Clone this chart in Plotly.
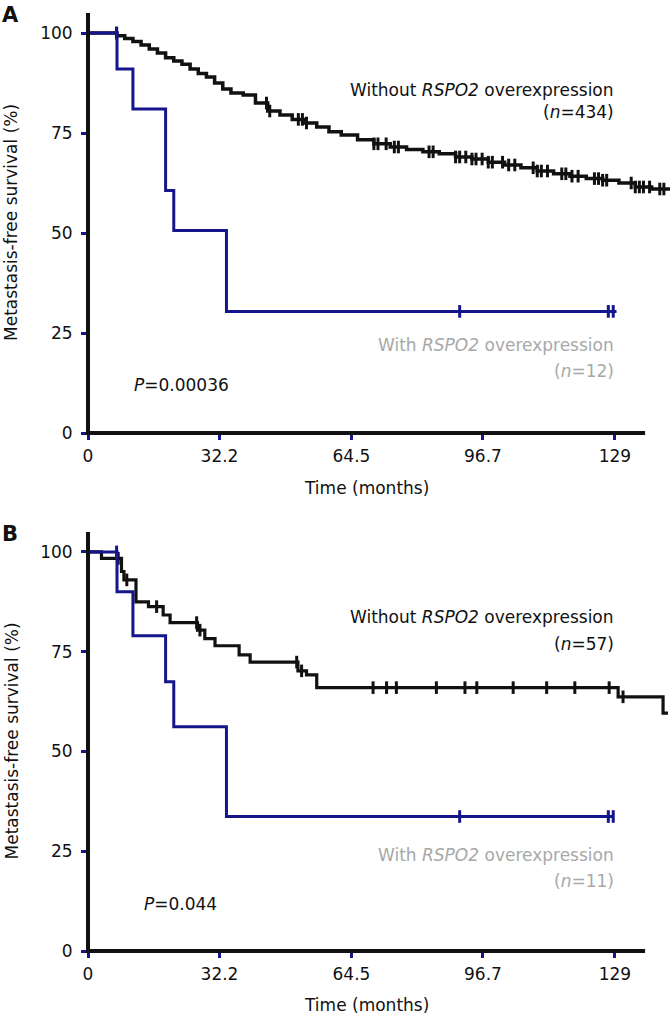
import numpy as np
import plotly.graph_objects as go

# ---------------- data ----------------
x_tick_vals = [0, 32.2, 64.5, 96.7, 129]
x_tick_text = ["0", "32.2", "64.5", "96.7", "129"]
y_tick_vals = [0, 25, 50, 75, 100]
y_tick_text = ["0", "25", "50", "75", "100"]

# Panel A - without RSPO2 overexpression (n=434)
a_wo_t = [0, 7.1, 9, 11, 13, 15, 17, 19, 21, 23, 25, 27, 29, 31, 33, 35, 38, 41, 44, 47, 50, 53,
          56, 59, 62, 66, 70, 74, 78, 82, 86, 90, 94, 98, 102, 106, 110, 114, 118, 122, 126, 130,
          134, 138, 142.5]
a_wo_s = [100, 99.3, 98.6, 97.9, 97.0, 96.0, 95.0, 93.8, 93.0, 92.2, 91.0, 89.9, 89.0, 87.5, 86.0,
          85.0, 84.5, 82.5, 80.5, 79.5, 78.4, 77.5, 76.5, 75.3, 74.5, 73.3, 72.3, 71.5, 70.9, 70.3,
          69.8, 69.0, 68.5, 67.7, 67.0, 66.3, 65.5, 64.8, 64.2, 63.6, 63.2, 62.5, 61.5, 61.0, 61.0]
a_wo_cens = [7.0, 43.7, 44.5, 51.5, 52.5, 53.5, 70, 71, 73, 75, 76, 83.5, 84.5, 90, 91, 92.5, 94,
             95, 96.5, 98, 99, 101.5, 103, 104.5, 109, 110, 111, 112.5, 116, 117, 118.5, 120, 124,
             125, 126, 127, 133, 134, 135, 136, 137.5, 140, 141]

# Panel A - with RSPO2 overexpression (n=12)
a_w_t = [0, 7.1, 11, 19, 21, 33.9, 129.4]
a_w_s = [100, 91.0, 81.0, 60.6, 50.6, 30.4, 30.4]
a_w_cens = [7.0, 91, 127.4, 128.6]

# Panel B - without RSPO2 overexpression (n=57)
b_wo_t = [0, 3.3, 8.2, 8.8, 11.75, 14.8, 18.4, 20.1, 26.8, 28.6, 31.1, 37.0, 39.7, 51.4, 53.5,
          56.0, 129.8, 140.8, 142.0]
b_wo_s = [100, 98.4, 95.1, 93.0, 87.5, 86.3, 84.2, 82.3, 80.4, 78.3, 76.5, 74.2, 72.4, 70.2,
          69.2, 66.0, 63.7, 59.6, 59.6]
b_wo_cens = [7.4, 9.5, 16.8, 26.6, 27.4, 51.1, 52.3, 69.8, 73.1, 75.5, 85.3, 92.3, 95.2, 104.1,
             112.3, 119.2, 127.6, 131.0]

# Panel B - with RSPO2 overexpression (n=11)
b_w_t = [0, 7.1, 11, 19, 21, 33.9, 128.6]
b_w_s = [100, 90.0, 79.0, 67.5, 56.2, 33.7, 33.7]
b_w_cens = [7.0, 91, 127.4, 128.6]

# ---------------- layout geometry ----------------
W, H = 670, 1017
PLOT_L, PLOT_R, PLOT_T, PLOT_B = 88, 670, 13, 951  # window pixels
ML, MR, MT, MB = PLOT_L, W - PLOT_R, PLOT_T, H - PLOT_B
PW, PH = PLOT_R - PLOT_L, PLOT_B - PLOT_T
XMAX = 142.5
AXIS_END = 136.4
YMAX = 105

domA = [(PLOT_B - 433) / PH, 1.0]
domB = [0.0, (PLOT_B - 532) / PH]

BLACK = "#111111"
BLUE = "#15158c"
GRAY = "#a8a8a8"
FONT = "DejaVu Sans"
FS = 17


def step_lookup(ts, ss, t):
    i = np.searchsorted(np.asarray(ts), t, side="right") - 1
    return np.asarray(ss)[np.clip(i, 0, len(ss) - 1)]


def pxx(px):
    return (px - PLOT_L) / PW


def pxy(py):
    return (PLOT_B - py) / PH


fig = go.Figure()


def add_curve(ts, ss, cens, color, xa, ya, name, lw):
    fig.add_trace(go.Scatter(x=ts, y=ss, mode="lines", line=dict(color=color, width=lw, shape="hv"),
                             xaxis=xa, yaxis=ya, name=name, showlegend=False, hoverinfo="skip"))
    cy = [float(step_lookup(ts, ss, c)) for c in cens]
    fig.add_trace(go.Scatter(x=cens, y=cy, mode="markers",
                             marker=dict(symbol="line-ns", size=9,
                                         line=dict(color=color, width=3)),
                             xaxis=xa, yaxis=ya, showlegend=False, hoverinfo="skip"))


add_curve(a_wo_t, a_wo_s, a_wo_cens, BLACK, "x", "y", "Without A", 3.5)
add_curve(a_w_t, a_w_s, a_w_cens, BLUE, "x", "y", "With A", 3)
add_curve(b_wo_t, b_wo_s, b_wo_cens, BLACK, "x2", "y2", "Without B", 3.2)
add_curve(b_w_t, b_w_s, b_w_cens, BLUE, "x2", "y2", "With B", 3)

xcommon = dict(range=[0, XMAX], showline=False, showgrid=False, zeroline=False,
               ticks="outside", ticklen=6, tickwidth=3, tickcolor=BLUE,
               tickvals=x_tick_vals, ticktext=x_tick_text, ticklabelstandoff=2,
               tickfont=dict(family=FONT, size=FS, color=BLACK), domain=[0, 1])
ycommon = dict(range=[0, YMAX], showline=False, showgrid=False, zeroline=False,
               ticks="outside", ticklen=6, tickwidth=3, tickcolor=BLUE,
               tickvals=y_tick_vals, ticktext=y_tick_text, ticklabelstandoff=5,
               tickfont=dict(family=FONT, size=FS, color=BLACK))

shapes = []
for dom in (domA, domB):
    y0 = dom[0]
    ytop = dom[1]
    shapes.append(dict(type="line", xref="paper", yref="paper", x0=0, x1=0,
                       y0=y0 - 2 / PH, y1=ytop, line=dict(color=BLACK, width=4)))
    shapes.append(dict(type="line", xref="paper", yref="paper", x0=-2 / PW, x1=AXIS_END / XMAX,
                       y0=y0, y1=y0, line=dict(color=BLACK, width=4)))

ann = []


def add_text(text, px, py, xanchor="center", color=BLACK, size=FS, angle=0):
    ann.append(dict(text=text, xref="paper", yref="paper", x=pxx(px), y=pxy(py),
                    xanchor=xanchor, yanchor="middle", showarrow=False, textangle=angle,
                    font=dict(family=FONT, size=size, color=color)))


# panel A texts
add_text("<b>A</b>", 10, 15.5, size=21)
add_text("Without <i>RSPO2</i> overexpression", 616, 90.5, xanchor="right")
add_text("(<i>n</i>=434)", 616, 112.5, xanchor="right")
add_text("With <i>RSPO2</i> overexpression", 616, 345, xanchor="right", color=GRAY)
add_text("(<i>n</i>=12)", 616, 370.5, xanchor="right", color=GRAY)
add_text("<i>P</i>=0.00036", 131.7, 385, xanchor="left")
add_text("Time (months)", 366, 488)
add_text("Metastasis-free survival (%)", 11, 223, angle=-90)

# panel B texts
add_text("<b>B</b>", 10, 533.5, size=21)
add_text("Without <i>RSPO2</i> overexpression", 616, 617, xanchor="right")
add_text("(<i>n</i>=57)", 616, 644, xanchor="right")
add_text("With <i>RSPO2</i> overexpression", 616, 855, xanchor="right", color=GRAY)
add_text("(<i>n</i>=11)", 616, 880.5, xanchor="right", color=GRAY)
add_text("<i>P</i>=0.044", 141.7, 903.5, xanchor="left")
add_text("Time (months)", 366, 1005)
add_text("Metastasis-free survival (%)", 11, 741.5, angle=-90)

fig.update_layout(
    width=W, height=H,
    margin=dict(l=ML, r=MR, t=MT, b=MB, pad=0),
    paper_bgcolor="white", plot_bgcolor="white",
    xaxis=dict(xcommon, anchor="y"),
    yaxis=dict(ycommon, domain=domA, anchor="x"),
    xaxis2=dict(xcommon, anchor="y2"),
    yaxis2=dict(ycommon, domain=domB, anchor="x2"),
    shapes=shapes, annotations=ann,
    showlegend=False,
    font=dict(family=FONT, size=FS, color=BLACK),
)

# remove the browser's default 8px body margin so the figure fills the window
fig.write_html("out.html",
               config={"displayModeBar": False},
               post_script="document.body.style.margin='0px';document.body.style.overflow='hidden';")
